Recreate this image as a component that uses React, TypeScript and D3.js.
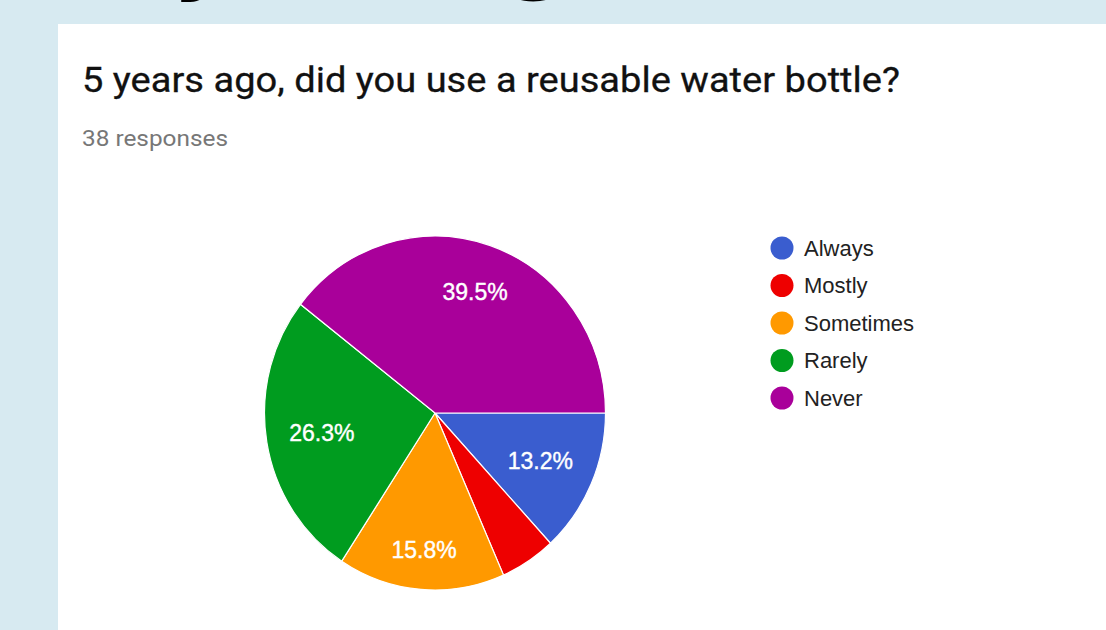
import React from "react";
import * as d3 from "d3";

const categories = ["Always", "Mostly", "Sometimes", "Rarely", "Never"];
const counts = [5, 2, 6, 10, 15];
const totalResponses = 38;
const titleText = "5 years ago, did you use a reusable water bottle?";
const subtitleText = `${totalResponses} responses`;

// styling
const colors = ["#3a5dcf", "#ee0000", "#ff9900", "#009c1f", "#a9009a"];
const labelRadiusFactor: Record<string, number> = {
  Always: 0.675,
  Mostly: 0.7,
  Sometimes: 0.776,
  Rarely: 0.673,
  Never: 0.725,
};

const W = 1106;
const H = 630;

export default function App() {
  const total = d3.sum(counts);
  const data = categories.map((c, i) => ({ cat: c, value: counts[i], color: colors[i] }));
  const pie = d3
    .pie<any>()
    .sort(null)
    .value((d) => d.value)
    .startAngle(Math.PI / 2)
    .endAngle(Math.PI / 2 + 2 * Math.PI);
  const arcs = pie(data);
  const r = 170.5;
  const sy = 1.038;
  const cx = 435;
  const cy = 413;
  const arc = d3.arc<any>().innerRadius(0).outerRadius(r);
  const fmt = (v: number) => (Math.round((v / total) * 1000) / 10).toFixed(1) + "%";

  const legendY = d3.scalePoint<string>().domain(categories).range([248, 398]);

  return (
    <svg
      width={W}
      height={H}
      style={{ position: "absolute", left: 0, top: 0, display: "block" }}
    >
      <rect x={0} y={0} width={W} height={H} fill="#d7eaf1" />
      <text x={172} y={-18} fontFamily="DejaVu Sans" fontWeight="bold" fontSize={92} fill="#000">y</text>
      <text x={505} y={-18} fontFamily="DejaVu Sans" fontWeight="bold" fontSize={92} fill="#000">g</text>
      <rect x={58} y={24} width={W - 58} height={H - 24} fill="#ffffff" />
      <text
        x={82}
        y={92}
        fontFamily="Roboto"
        fontSize={35}
        fill="#111"
        stroke="#111"
        strokeWidth={0.3}
        textLength={818}
        lengthAdjust="spacingAndGlyphs"
      >
        {titleText}
      </text>
      <text x={82} y={146} fontFamily="Roboto" fontSize={22} fill="#777" textLength={146} lengthAdjust="spacingAndGlyphs">
        {subtitleText}
      </text>
      <g transform={`translate(${cx},${cy}) scale(1,${sy})`}>
        {arcs.map((a, i) => (
          <path key={i} d={arc(a) as string} fill={a.data.color} stroke="#fff" strokeWidth={1.2} />
        ))}
      </g>
      {arcs.map((a, i) => {
        const pct = a.data.value / total;
        if (pct < 0.08) return null;
        const mid = (a.startAngle + a.endAngle) / 2;
        const lr = r * labelRadiusFactor[a.data.cat];
        const x = cx + Math.sin(mid) * lr;
        const y = cy - Math.cos(mid) * lr * sy;
        return (
          <text
            key={"l" + i}
            x={x}
            y={y}
            dy="0.36em"
            textAnchor="middle"
            fontFamily="Liberation Sans, Arial"
            fontSize={23}
            fill="#fff"
            stroke="#fff"
            strokeWidth={0.4}
          >
            {fmt(a.data.value)}
          </text>
        );
      })}
      {categories.map((c, i) => (
        <g key={c}>
          <circle cx={782} cy={legendY(c)!} r={11.5} fill={colors[i]} />
          <text
            x={804}
            y={legendY(c)!}
            dy="0.36em"
            fontFamily="Liberation Sans, Arial"
            fontSize={22}
            fill="#222"
          >
            {c}
          </text>
        </g>
      ))}
    </svg>
  );
}
